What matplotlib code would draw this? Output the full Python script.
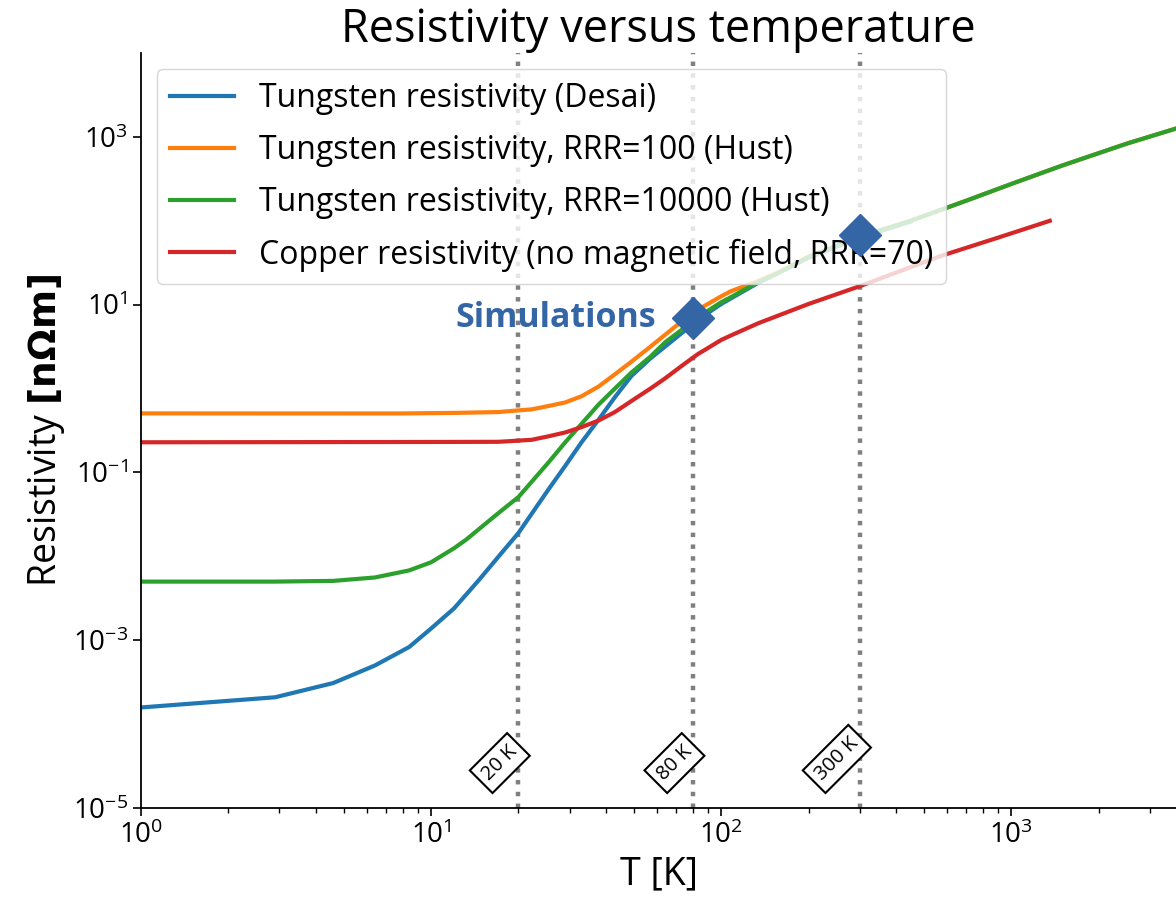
import numpy as np
import matplotlib.pyplot as plt
from matplotlib.ticker import LogLocator, NullLocator

plt.rcParams['font.family'] = ['Open Sans', 'DejaVu Sans']
plt.rcParams['mathtext.fontset'] = 'custom'
plt.rcParams['mathtext.rm'] = 'Open Sans'
plt.rcParams['mathtext.it'] = 'Open Sans:italic'
plt.rcParams['mathtext.bf'] = 'DejaVu Sans:bold'

# Tungsten (Desai)
t_desai = [1, 2.9, 4.6, 6.4, 8.4, 10, 12, 14.6, 17.1, 20, 25.4, 29, 33, 37.8, 43, 49, 57, 64, 73,
           83, 100, 134, 200, 300, 450]
rho_desai = [1.58e-4, 2.09e-4, 3.09e-4, 5.0e-4, 8.3e-4, 1.38e-3, 2.4e-3, 5.2e-3, 0.010, 0.019,
             0.063, 0.12, 0.229, 0.427, 0.79, 1.41, 2.29, 3.16, 4.57, 6.6, 10.2, 18.2, 36.3, 63, 98]

# Tungsten RRR=100 (Hust)
t_w100 = [1, 7.75, 12, 17.1, 20, 22.2, 25.4, 29, 33, 37.8, 43, 49, 57, 64, 73, 83, 100, 108, 134,
          156, 200, 300, 450, 700, 1000, 1500, 2500, 3695]
rho_w100 = [0.506, 0.505, 0.513, 0.525, 0.55, 0.565, 0.62, 0.684, 0.81, 1.06, 1.48, 2.09, 3.16,
            4.37, 6.3, 8.7, 12.6, 14.5, 19.1, 24.0, 37.2, 64.6, 100, 174, 275, 457, 832, 1259]

# Tungsten RRR=10000 (Hust)
t_w10k = [1, 2.9, 4.6, 6.4, 8.4, 10, 12, 13.2, 17.1, 20, 25.4, 29, 33, 37.8, 43, 49, 57, 64, 75,
          83, 100, 108, 134, 156, 200, 300, 450, 700, 1000, 1500, 2500, 3695]
rho_w10k = [5.0e-3, 5.0e-3, 5.1e-3, 5.6e-3, 6.8e-3, 8.5e-3, 0.0125, 0.0158, 0.033, 0.051, 0.132,
            0.229, 0.38, 0.646, 1.0, 1.55, 2.4, 3.55, 5.37, 7.08, 10.7, 12.3, 18.6, 23.4, 37.2,
            64.6, 100, 174, 275, 457, 832, 1259]

# Copper RRR=70
t_cu = [1, 10, 17.1, 22.2, 25.4, 29, 33, 37.8, 43, 49, 57, 64, 73, 83, 100, 108, 134, 157, 200,
        300, 570, 900, 1357]
rho_cu = [0.229, 0.231, 0.232, 0.245, 0.27, 0.30, 0.347, 0.417, 0.525, 0.71, 1.0, 1.32, 1.86,
          2.57, 3.8, 4.3, 6.0, 7.4, 10.2, 16.6, 38, 63, 100]

sim_t = [80, 300]
sim_rho = [7.0, 68]

marker_temps = [20, 80, 300]
marker_labels = ['20 K', '80 K', '300 K']

fig = plt.figure(figsize=(11.76, 9.02), dpi=100)
ax = fig.add_axes([0.1199, 0.1042, 0.8801, 0.837])

for t in marker_temps:
    ax.axvline(t, color='grey', ls=':', lw=3.2, zorder=1)

ax.plot(t_desai, rho_desai, color='#1f77b4', lw=3, label='Tungsten resistivity (Desai)')
ax.plot(t_w100, rho_w100, color='#ff7f0e', lw=3, label='Tungsten resistivity, RRR=100 (Hust)')
ax.plot(t_w10k, rho_w10k, color='#2ca02c', lw=3, label='Tungsten resistivity, RRR=10000 (Hust)')
ax.plot(t_cu, rho_cu, color='#d62728', lw=3, label='Copper resistivity (no magnetic field, RRR=70)')

ax.plot(sim_t, sim_rho, 'D', color='#3465a4', markersize=21, zorder=10, label='_nolegend_')
ax.annotate('Simulations', xy=(sim_t[0], sim_rho[0]), xytext=(-27, 0), textcoords='offset points',
            ha='right', va='center', fontsize=24.5, fontweight='bold', color='#3465a4')

for t, lab in zip(marker_temps, marker_labels):
    ax.annotate(lab, xy=(t, 10**-4.72), xytext=(2, 0), textcoords='offset points',
                ha='right', va='bottom', rotation=45, fontsize=14.5,
                bbox=dict(boxstyle='square,pad=0.3', fc='white', ec='black', lw=1.5))

ax.set_xscale('log')
ax.set_yscale('log')
ax.set_xlim(1, 3695)
ax.set_ylim(1e-5, 1e4)
ax.set_yticks([1e-5, 1e-3, 1e-1, 1e1, 1e3])
ax.yaxis.set_minor_locator(NullLocator())
ax.xaxis.set_minor_locator(LogLocator(base=10, subs=np.arange(2, 10)))
ax.tick_params(axis='both', which='major', labelsize=20, length=6, width=1.2)
ax.tick_params(axis='x', which='minor', length=3.5, width=1)

for s in ['top', 'right']:
    ax.spines[s].set_visible(False)
ax.spines['left'].set_linewidth(1.3)
ax.spines['bottom'].set_linewidth(1.3)

ax.set_xlabel('T [K]', fontsize=27)
ax.set_ylabel(r'Resistivity $\mathbf{[n\Omega m]}$', fontsize=27)
ax.set_title('Resistivity versus temperature', fontsize=32.5, pad=5)

ax.legend(loc='upper left', fontsize=23, framealpha=0.8, labelspacing=0.6)

fig.savefig('out.png', dpi=100)
